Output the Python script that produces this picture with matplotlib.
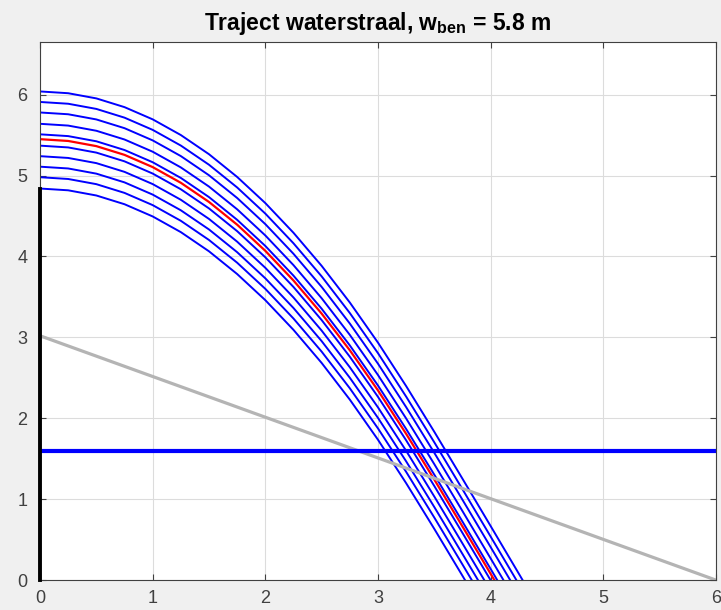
import numpy as np
import matplotlib
matplotlib.use('Agg')
import matplotlib.pyplot as plt

# top (highest) jet trajectory
x_base = [0.0, 0.25, 0.5, 0.75, 1.0, 1.25, 1.5, 1.75, 2.0, 2.25, 2.5, 2.75,
          3.0, 3.25, 3.5, 3.75, 4.0, 4.25, 4.5, 4.75]
y_base = [6.040, 6.018, 5.954, 5.846, 5.695, 5.501, 5.264, 4.983, 4.660, 4.293,
          3.884, 3.431, 2.935, 2.398, 1.833, 1.253, 0.668, 0.080, -0.510, -1.100]

# vertical shift of every blue jet relative to the top one
blue_shift = [0.0, -0.13, -0.26, -0.40, -0.53, -0.67, -0.80, -0.93, -1.06, -1.20]
red_shift = -0.59

wall_height = 4.84           # black wall at x = 0
helling_x = [0, 6]
helling_y = [3.02, 0]
niveau = 1.6                 # horizontal blue line

plt.rcParams['font.family'] = ['Liberation Sans', 'DejaVu Sans']
plt.rcParams['mathtext.fontset'] = 'custom'
plt.rcParams['mathtext.rm'] = 'Liberation Sans:bold'
plt.rcParams['mathtext.bf'] = 'Liberation Sans:bold'

fig = plt.figure(figsize=(7.21, 6.10), dpi=100, facecolor='#f0f0f0')
ax = fig.add_axes([0.0555, 0.049, 0.9375, 0.882])

xb = np.array(x_base)
yb = np.array(y_base)
for s in blue_shift:
    ax.plot(xb, yb + s, '-', color='#0000ff', lw=1.4)
ax.plot(xb, yb + red_shift, '-', color='#ff0000', lw=1.6)

ax.plot(helling_x, helling_y, '-', color='#b4b4b4', lw=2.3)
ax.plot([0, 6], [niveau, niveau], '-', color='#0000ff', lw=3.0)
ax.plot([0, 0], [0, wall_height], '-', color='black', lw=2.8,
        clip_on=False, zorder=3)

ax.set_xlim(0, 6)
ax.set_ylim(0, 6.65)
ax.set_xticks(range(0, 7))
ax.set_yticks(range(0, 7))
ax.grid(True, color='#dcdcdc', lw=0.8)
ax.set_axisbelow(True)
ax.tick_params(direction='in', length=4, width=0.8, colors='#404040',
               labelsize=13, top=True, right=True)
ax.tick_params(axis='x', pad=7)
ax.tick_params(axis='y', pad=9)
for sp in ax.spines.values():
    sp.set_color('#404040')
    sp.set_linewidth(0.8)

ax.set_title(r'Traject waterstraal, w$_{\mathbf{ben}}$ = 5.8 m',
             fontsize=16.5, fontweight='bold', color='black', pad=9)

fig.savefig('out.png', dpi=100, facecolor=fig.get_facecolor())
